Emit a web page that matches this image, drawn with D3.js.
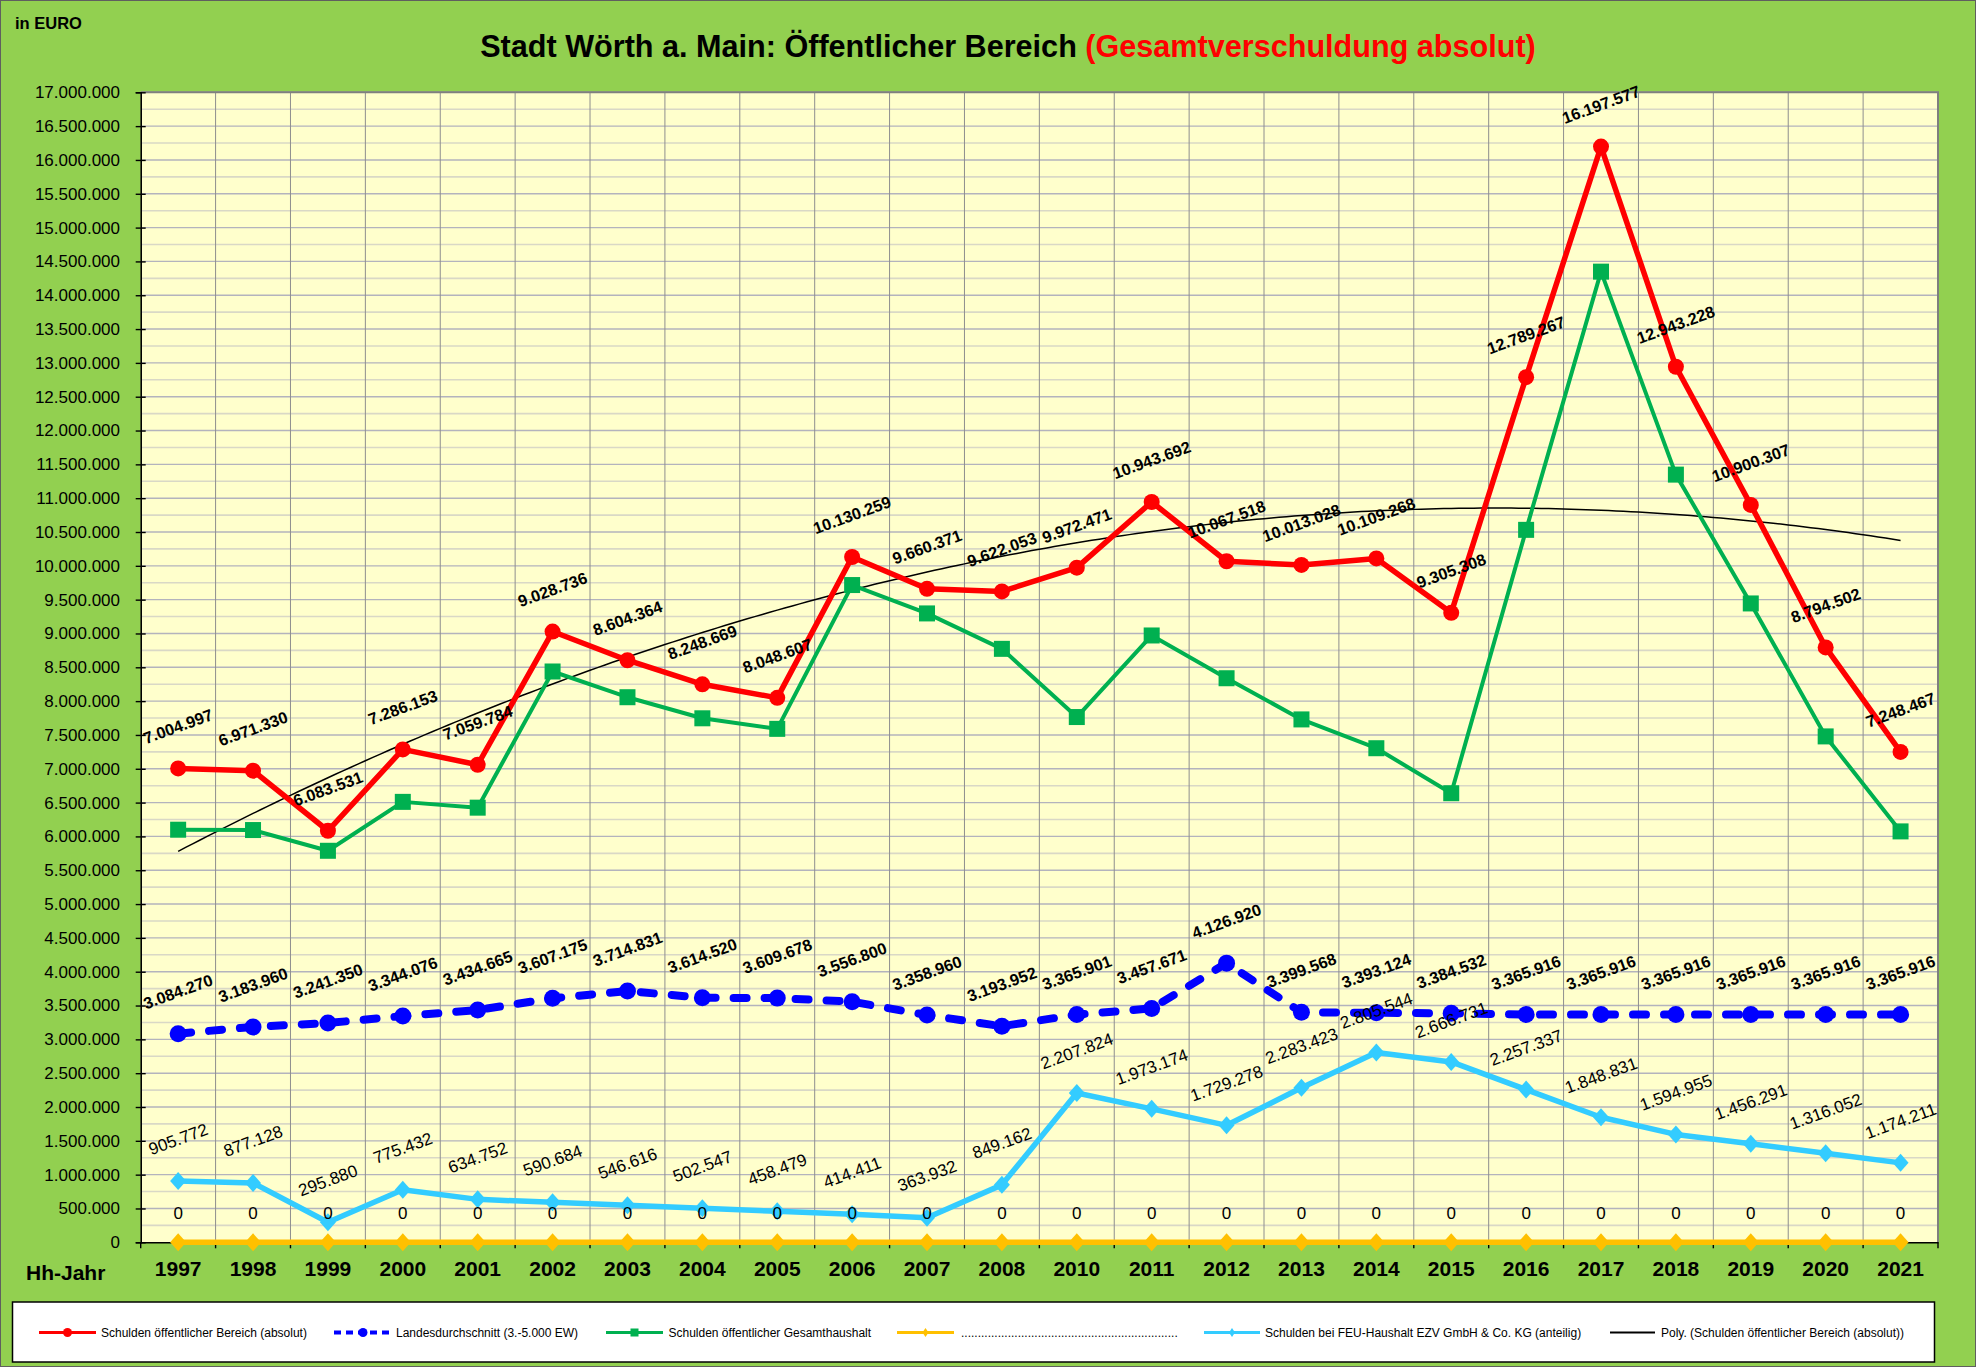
<!DOCTYPE html>
<html><head><meta charset="utf-8">
<script src="https://cdn.jsdelivr.net/npm/d3@7"></script>
<style>
body{margin:0;background:#92D050;}
svg{display:block;font-family:"Liberation Sans",Arial,Helvetica,sans-serif;}
text{white-space:pre;}
</style>
</head><body>
<svg id="c" width="1976" height="1367"></svg>
<script>
// ---------- data ----------
const years = ["1997","1998","1999","2000","2001","2002","2003","2004","2005","2006","2007","2008",
               "2010","2011","2012","2013","2014","2015","2016","2017","2018","2019","2020","2021"];
const schuldenBereich = [7004997,6971330,6083531,7286153,7059784,9028736,8604364,8248669,8048607,10130259,9660371,9622053,
                         9972471,10943692,10067518,10013028,10109268,9305308,12789267,16197577,12943228,10900307,8794502,7248467];
const landesdurchschnitt = [3084270,3183960,3241350,3344076,3434665,3607175,3714831,3614520,3609678,3556800,3358960,3193952,
                            3365901,3457671,4126920,3399568,3393124,3384532,3365916,3365916,3365916,3365916,3365916,3365916];
const gesamthaushalt = [6099225,6094202,5787651,6510721,6425032,8438052,8057748,7746122,7590128,9715848,9296439,8772891,
                        7764647,8970518,8338240,7729605,7303724,6638577,10531930,14348746,11348273,9444016,7478450,6074256];
const leerSerie = [0,0,0,0,0,0,0,0,0,0,0,0, 0,0,0,0,0,0,0,0,0,0,0,0];
const feuHaushalt = [905772,877128,295880,775432,634752,590684,546616,502547,458479,414411,363932,849162,
                     2207824,1973174,1729278,2283423,2805544,2666731,2257337,1848831,1594955,1456291,1316052,1174211];
const yTickValues = [0,500000,1000000,1500000,2000000,2500000,3000000,3500000,4000000,4500000,5000000,5500000,
                     6000000,6500000,7000000,7500000,8000000,8500000,9000000,9500000,10000000,10500000,11000000,
                     11500000,12000000,12500000,13000000,13500000,14000000,14500000,15000000,15500000,16000000,16500000,17000000];
const legendLabels = ["Schulden öffentlicher Bereich (absolut)","Landesdurchschnitt (3.-5.000 EW)",
  "Schulden öffentlicher Gesamthaushalt",".................................................................",
  "Schulden bei FEU-Haushalt EZV GmbH & Co. KG (anteilig)","Poly. (Schulden öffentlicher Bereich (absolut))"];

// ---------- setup ----------
const W=1976,H=1367;
const svg=d3.select("#c");
const de=d3.formatLocale({decimal:",",thousands:".",grouping:[3],currency:["","€"]});
const fmt=de.format(",d");
const C={red:"#FF0000",blue:"#0000FF",green:"#00B050",yellow:"#FFC000",lblue:"#33CCFF",bg:"#92D050",plot:"#FFFFCC"};

svg.append("rect").attr("x",0.5).attr("y",0.5).attr("width",W-1).attr("height",H-1)
  .attr("fill",C.bg).attr("stroke","#5f5f5f").attr("stroke-width",1);

const m={l:140.7,r:1938,t:92.3,b:1242.3};
const x=d3.scaleBand().domain(years).range([m.l,m.r]).padding(0);
const y=d3.scaleLinear().domain([0,17000000]).range([m.b,m.t]);
const cx=d=>x(d)+x.bandwidth()/2;

svg.append("rect").attr("x",m.l).attr("y",m.t).attr("width",m.r-m.l).attr("height",m.b-m.t).attr("fill",C.plot);

// minor horizontal grid (250k)
const minor=d3.range(250000,17000000,500000);
svg.append("g").selectAll("line").data(minor).join("line")
  .attr("x1",m.l).attr("x2",m.r).attr("y1",d=>y(d)).attr("y2",d=>y(d))
  .attr("stroke","#d9d8c6").attr("stroke-width",1.6);
// major horizontal grid
svg.append("g").selectAll("line").data(yTickValues.slice(1)).join("line")
  .attr("x1",m.l).attr("x2",m.r).attr("y1",d=>y(d)).attr("y2",d=>y(d))
  .attr("stroke","#b3b3bd").attr("stroke-width",1.4);
// vertical grid at category boundaries
const bounds=years.map(d=>x(d)).concat([m.r]);
svg.append("g").selectAll("line").data(bounds.slice(1,-1)).join("line")
  .attr("x1",d=>d).attr("x2",d=>d).attr("y1",m.t).attr("y2",m.b)
  .attr("stroke","#8e8e8e").attr("stroke-width",1);
// plot border top/right
svg.append("path").attr("d",`M${m.l},${m.t}H${m.r}V${m.b}`).attr("fill","none").attr("stroke","#7f7f7f").attr("stroke-width",2);

// y axis
const ya=svg.append("g").attr("transform",`translate(${m.l},0)`)
  .call(d3.axisLeft(y).tickValues(yTickValues).tickFormat(d=>d===0?"0":fmt(d)).tickSize(5).tickPadding(15.7));
ya.select(".domain").attr("stroke","#000").attr("stroke-width",1.6);
ya.selectAll(".tick line").attr("x1",5).attr("x2",-5).attr("stroke","#000").attr("stroke-width",1.4);
ya.selectAll(".tick text").attr("font-size",17).attr("font-family","Liberation Sans, Arial, sans-serif").attr("fill","#000");

// x axis
const xa=svg.append("g").attr("transform",`translate(0,${m.b})`)
  .call(d3.axisBottom(x).tickSize(0).tickPadding(18.8));
xa.select(".domain").attr("stroke","#000").attr("stroke-width",1.6);
xa.selectAll(".tick text").attr("font-size",21).attr("font-weight","bold").attr("font-family","Liberation Sans, Arial, sans-serif").attr("fill","#000");
svg.append("g").selectAll("line").data(bounds).join("line")
  .attr("x1",d=>d).attr("x2",d=>d).attr("y1",m.b).attr("y2",m.b+6).attr("stroke","#000").attr("stroke-width",1.4);

// texts
svg.append("text").attr("x",15).attr("y",29).attr("font-size",16.5).attr("font-weight","bold").text("in EURO");
svg.append("text").attr("x",26).attr("y",1279.5).attr("font-size",21).attr("font-weight","bold").text("Hh-Jahr");
const title=svg.append("text").attr("x",1008).attr("y",57).attr("text-anchor","middle").attr("font-size",30.6).attr("font-weight","bold");
title.append("tspan").attr("fill","#000").text("Stadt Wörth a. Main: Öffentlicher Bereich ");
title.append("tspan").attr("fill",C.red).text("(Gesamtverschuldung absolut)");

// ---------- trendline (polynomial order 2 of red series, x = 1..n) ----------
function polyFit2(vals){
  const n=vals.length;let S=[0,0,0,0,0],T=[0,0,0];
  vals.forEach((v,i)=>{const t=i+1;for(let k=0;k<5;k++)S[k]+=Math.pow(t,k);for(let k=0;k<3;k++)T[k]+=v*Math.pow(t,k);});
  const A=[[S[0],S[1],S[2],T[0]],[S[1],S[2],S[3],T[1]],[S[2],S[3],S[4],T[2]]];
  for(let i=0;i<3;i++){for(let j=i+1;j<3;j++){const f=A[j][i]/A[i][i];for(let k=i;k<4;k++)A[j][k]-=f*A[i][k];}}
  const c=[0,0,0];for(let i=2;i>=0;i--){let s=A[i][3];for(let k=i+1;k<3;k++)s-=A[i][k]*c[k];c[i]=s/A[i][i];}
  return t=>c[0]+c[1]*t+c[2]*t*t;
}
const trend=polyFit2(schuldenBereich);
const tx=d3.scaleLinear().domain([1,years.length]).range([cx(years[0]),cx(years[years.length-1])]);
const tSamples=d3.range(1,years.length+0.001,0.1);
svg.append("path").attr("d",d3.line().x(t=>tx(t)).y(t=>y(trend(t)))(tSamples))
  .attr("fill","none").attr("stroke","#000").attr("stroke-width",1.5);

// ---------- series ----------
const line=d3.line().x((d,i)=>cx(years[i])).y(d=>y(d));
function drawLine(vals,color,w,dash){
  const p=svg.append("path").attr("d",line(vals)).attr("fill","none").attr("stroke",color).attr("stroke-width",w).attr("stroke-linejoin","round");
  if(dash)p.attr("stroke-dasharray",dash).attr("stroke-linecap","round");
}
function circles(vals,color,r){
  svg.append("g").selectAll("circle").data(vals).join("circle").attr("cx",(d,i)=>cx(years[i])).attr("cy",d=>y(d)).attr("r",r).attr("fill",color);
}
function squares(vals,color,s){
  svg.append("g").selectAll("rect").data(vals).join("rect").attr("x",(d,i)=>cx(years[i])-s/2).attr("y",d=>y(d)-s/2).attr("width",s).attr("height",s).attr("fill",color);
}
function diamonds(vals,color,hw,hh){
  svg.append("g").selectAll("path").data(vals).join("path")
    .attr("d",(d,i)=>`M${cx(years[i])},${y(d)-hh}L${cx(years[i])+hw},${y(d)}L${cx(years[i])},${y(d)+hh}L${cx(years[i])-hw},${y(d)}Z`).attr("fill",color);
}
drawLine(schuldenBereich,C.red,5.5); circles(schuldenBereich,C.red,8);
drawLine(landesdurchschnitt,C.blue,8,"13,18"); circles(landesdurchschnitt,C.blue,8.5);
drawLine(gesamthaushalt,C.green,4); squares(gesamthaushalt,C.green,16);
drawLine(leerSerie,C.yellow,5.5); diamonds(leerSerie,C.yellow,8,9);
drawLine(feuHaushalt,C.lblue,5.5); diamonds(feuHaushalt,C.lblue,8,9);

// ---------- data labels ----------
function rotLabels(vals,bold,size){
  svg.append("g").selectAll("text").data(vals).join("text")
    .attr("transform",(d,i)=>`translate(${cx(years[i])},${y(d)-42}) rotate(-20)`)
    .attr("text-anchor","middle").attr("dy","0.35em")
    .attr("font-size",size).attr("font-weight",bold?"bold":"normal").attr("fill","#000")
    .text(d=>fmt(d));
}
rotLabels(schuldenBereich,true,16.3);
rotLabels(landesdurchschnitt,true,16.3);
rotLabels(feuHaushalt,false,17);
svg.append("g").selectAll("text").data(leerSerie).join("text")
  .attr("x",(d,i)=>cx(years[i])).attr("y",d=>y(d)-29).attr("dy","0.35em").attr("text-anchor","middle")
  .attr("font-size",17).attr("fill","#000").text(d=>fmt(d));

// ---------- legend ----------
const lg=svg.append("g");
lg.append("rect").attr("x",12.5).attr("y",1302).attr("width",1922).attr("height",60).attr("fill","#fff").attr("stroke","#000").attr("stroke-width",1.5);
const ly=1332.5;
const items=[
  {x0:39,x1:96,tx:101,color:C.red,w:3,mk:"circle"},
  {x0:334,x1:392,tx:396,color:C.blue,w:4,mk:"circle",dash:"7,5"},
  {x0:606,x1:663,tx:668.5,color:C.green,w:3,mk:"square"},
  {x0:897,x1:954,tx:961,color:C.yellow,w:3,mk:"diamond"},
  {x0:1204,x1:1260,tx:1265,color:C.lblue,w:3,mk:"diamond"},
  {x0:1610,x1:1655,tx:1661,color:"#000",w:2,mk:null}
];
items.forEach((it,i)=>{
  const l=lg.append("line").attr("x1",it.x0).attr("x2",it.x1).attr("y1",ly).attr("y2",ly).attr("stroke",it.color).attr("stroke-width",it.w);
  if(it.dash)l.attr("stroke-dasharray",it.dash);
  const mx=(it.x0+it.x1)/2;
  if(it.mk==="circle")lg.append("circle").attr("cx",mx).attr("cy",ly).attr("r",4.5).attr("fill",it.color);
  if(it.mk==="square")lg.append("rect").attr("x",mx-4).attr("y",ly-4).attr("width",8).attr("height",8).attr("fill",it.color);
  if(it.mk==="diamond")lg.append("path").attr("d",`M${mx},${ly-4.5}L${mx+3},${ly}L${mx},${ly+4.5}L${mx-3},${ly}Z`).attr("fill",it.color);
  lg.append("text").attr("x",it.tx).attr("y",ly).attr("dy","0.35em").attr("font-size",12).attr("fill","#000").text(legendLabels[i]);
});
</script>
</body></html>
